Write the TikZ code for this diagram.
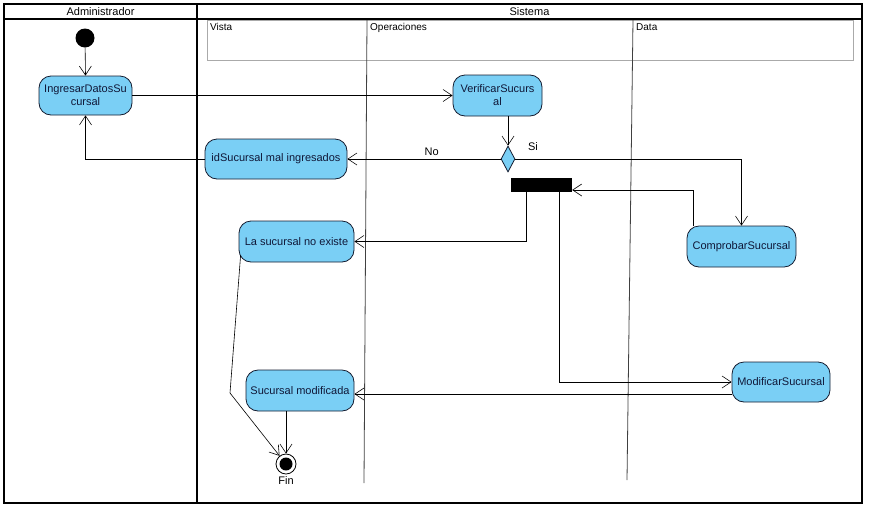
\documentclass[tikz,border=0pt]{standalone}
\usepackage{fontspec}
\setmainfont{Liberation Sans}
\usetikzlibrary{positioning,arrows.meta,shapes.geometric}

\definecolor{vpblue}{RGB}{122,207,245}
\definecolor{vpline}{RGB}{20,28,48}
\definecolor{vptext}{RGB}{16,24,56}
\definecolor{lanegray}{RGB}{170,170,170}

\tikzset{
    action/.style={rectangle, rounded corners=12pt, draw=vpline, fill=vpblue,
        thick, align=center, inner sep=2pt, text=vptext,
        font=\fontsize{11}{13}\selectfont},
    flow/.style={draw=black, semithick, ->},
    lbl/.style={font=\fontsize{11}{13}\selectfont, inner sep=1pt},
    small/.style={font=\fontsize{10}{12}\selectfont, inner sep=1pt},
    >={Straight Barb[length=9pt,width=12pt]}
}

\begin{document}
\begin{tikzpicture}[x=1pt, y=-1pt]
    \useasboundingbox (0,0) rectangle (869,509);

    % Swimlanes
    \draw[line width=2pt] (4,4) rectangle (862,503);
    \draw[line width=2pt] (4,19) -- (862,19);
    \draw[line width=2pt] (197,4) -- (197,503);
    \node[lbl] (admin) at (100.5,12) {Administrador};
    \node[lbl] (sistema) at (529.5,12) {Sistema};

    % Partitions of Sistema
    \draw[lanegray] (207,20) rectangle (853,60);
    \draw[black!75, thick] (367,20) -- (364,483);
    \draw[black!75, thick] (633,20) -- (627,480);
    \node[small, anchor=north west] (vista) at (209,22) {Vista};
    \node[small, anchor=north west] (oper) at (369,22) {Operaciones};
    \node[small, anchor=north west] (data) at (635,22) {Data};

    % Nodes
    \node[circle, fill=black, minimum size=19pt, inner sep=0pt] (init) at (85,38) {};
    \node[action, minimum width=93pt, minimum height=39pt] (ingresar) at (85.5,95.5) {IngresarDatosSu\\cursal};
    \node[action, minimum width=89pt, minimum height=41pt] (verificar) at (497.5,95.5) {VerificarSucurs\\al};
    \node[diamond, draw=vpline, fill=vpblue, thick, minimum width=14pt, minimum height=26pt, inner sep=0pt] (decision) at (508,159) {};
    \node[action, minimum width=142pt, minimum height=40pt] (malIngresados) at (276,159) {idSucursal mal ingresados};
    \node[rectangle, fill=black, minimum width=61pt, minimum height=14pt, inner sep=0pt] (bar) at (541.5,185) {};
    \node[action, minimum width=115pt, minimum height=41pt] (noExiste) at (296.5,241.5) {La sucursal no existe};
    \node[action, minimum width=109pt, minimum height=41pt] (comprobar) at (741.5,246.5) {ComprobarSucursal};
    \node[action, minimum width=98pt, minimum height=40pt] (modificar) at (781,382) {ModificarSucursal};
    \node[action, minimum width=108pt, minimum height=41pt] (modificada) at (300,390.5) {Sucursal modificada};
    \node[circle, draw=black, thick, fill=white, minimum size=20pt, inner sep=0pt] (fin) at (286,464) {};
    \fill (fin.center) circle (6.5pt);
    \node[lbl, below=1pt of fin] (finLbl) {Fin};
    \coordinate (bend) at (230,393);

    % Flows
    \draw[flow] (init) -- (ingresar.north);
    \draw[flow] (ingresar.east) -- (verificar.west);
    \draw[flow] (verificar.south -| decision) -- (decision.north);
    \draw[flow] (decision.west) -- node[lbl, above=2pt, pos=0.45] {No} (malIngresados.east);
    \draw[flow] (malIngresados.west) -| (ingresar.south);
    \draw[flow] (decision.east) -| (comprobar.north);
    \node[lbl] (siLbl) at (533,147) {Si};
    \draw[flow] ([xshift=7pt]comprobar.north west) |- ([yshift=-5pt]bar.east);
    \draw[flow] ([xshift=-15.5pt]bar.south) |- (noExiste.east);
    \draw[flow] ([xshift=17.5pt]bar.south) |- (modificar.west);
    \draw[flow] (modificar.west |- 0,394) -- (modificada.east |- 0,394);
    \draw[flow] (modificada.south -| fin) -- (fin.north);
    \draw[flow] ([shift={(2pt,7pt)}]noExiste.south west) -- (bend) -- (fin);
\end{tikzpicture}
\end{document}
